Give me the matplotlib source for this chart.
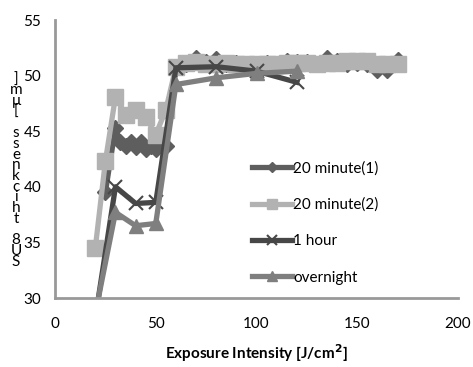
import matplotlib
matplotlib.use("Agg")
import matplotlib.pyplot as plt

plt.rcParams["font.family"] = ["Lato", "DejaVu Sans"]

high_x = [60, 65, 70, 75, 80, 85, 90, 95, 100, 105, 110, 115, 120, 125, 130,
          135, 140, 145, 150, 155, 160, 165, 170]

min20_1_x = [25, 30, 32.5, 35, 37.5, 40, 42.5, 45, 47.5, 50, 55] + high_x
min20_1_y = [39.5, 45.3, 44.0, 43.7, 44.0, 43.6, 44.0, 43.4, 43.7, 43.4, 43.7,
             50.7, 51.0, 51.6, 51.2, 51.5, 51.0, 51.1, 51.0, 51.0, 51.1, 51.0, 51.3,
             51.2, 51.2, 51.0, 51.6, 51.3, 51.0, 51.1, 51.0, 50.5, 50.5, 51.4]

min20_2_x = [20, 25, 30, 35, 40, 45, 50, 55] + high_x
min20_2_y = [34.5, 42.3, 48.1, 46.5, 46.9, 46.3, 44.7, 46.9,
             50.8, 51.1, 51.2, 51.0, 51.0, 51.1, 51.0, 51.0, 51.0, 51.0, 51.0, 51.1,
             51.1, 51.1, 51.0, 51.1, 51.1, 51.3, 51.3, 51.3, 51.0, 51.0, 51.0]

hour1_x = [20, 30, 40, 50, 60, 80, 100, 120]
hour1_y = [28.2, 40.0, 38.5, 38.6, 50.7, 50.8, 50.4, 49.4]

overnight_x = [20, 30, 40, 50, 60, 80, 100, 120]
overnight_y = [28.6, 37.7, 36.5, 36.7, 49.2, 49.8, 50.2, 50.4]

labels = ["20 minute(1)", "20 minute(2)", "1 hour", "overnight"]
ylabel = "SU8 thickness [\u03bcm]"

fig = plt.figure(figsize=(4.73, 3.67), dpi=100)
ax = fig.add_axes([0.1163, 0.188, 0.852, 0.7575])

ax.plot(min20_1_x, min20_1_y, color="#5e5e5e", lw=3.8, marker="D", ms=8,
        label=labels[0])
ax.plot(min20_2_x, min20_2_y, color="#b2b2b2", lw=3.8, marker="s", ms=11,
        label=labels[1])
ax.plot(hour1_x, hour1_y, color="#474747", lw=3.8, marker="x", ms=10, mew=1.5,
        label=labels[2])
ax.plot(overnight_x, overnight_y, color="#7f7f7f", lw=3.8, marker="^", ms=10,
        label=labels[3])

ax.set_xlim(0, 200)
ax.set_ylim(30, 55)
ax.set_xticks([0, 50, 100, 150, 200])
ax.set_yticks([30, 35, 40, 45, 50, 55])
ax.tick_params(length=0, labelsize=11, pad=10)
ax.tick_params(axis="x", pad=14)
for side in ("top", "right"):
    ax.spines[side].set_visible(False)
for side in ("left", "bottom"):
    ax.spines[side].set_color("#999999")
    ax.spines[side].set_linewidth(2)

ax.set_xlabel("Exposure Intensity [J/cm$^\\mathbf{2}$]", fontsize=11,
              fontweight="bold", labelpad=8)

# stacked characters, bottom-to-top, as in the source chart
fig.text(0.034, 0.535, "\n".join(reversed(ylabel)), fontsize=11,
         ha="center", va="center", linespacing=0.7)

ax.legend(loc="center left", bbox_to_anchor=(0.455, 0.27), frameon=False,
          fontsize=11, handlelength=2.6, handletextpad=0.1, labelspacing=1.45,
          markerscale=0.7)

fig.savefig("out.png", dpi=100)
